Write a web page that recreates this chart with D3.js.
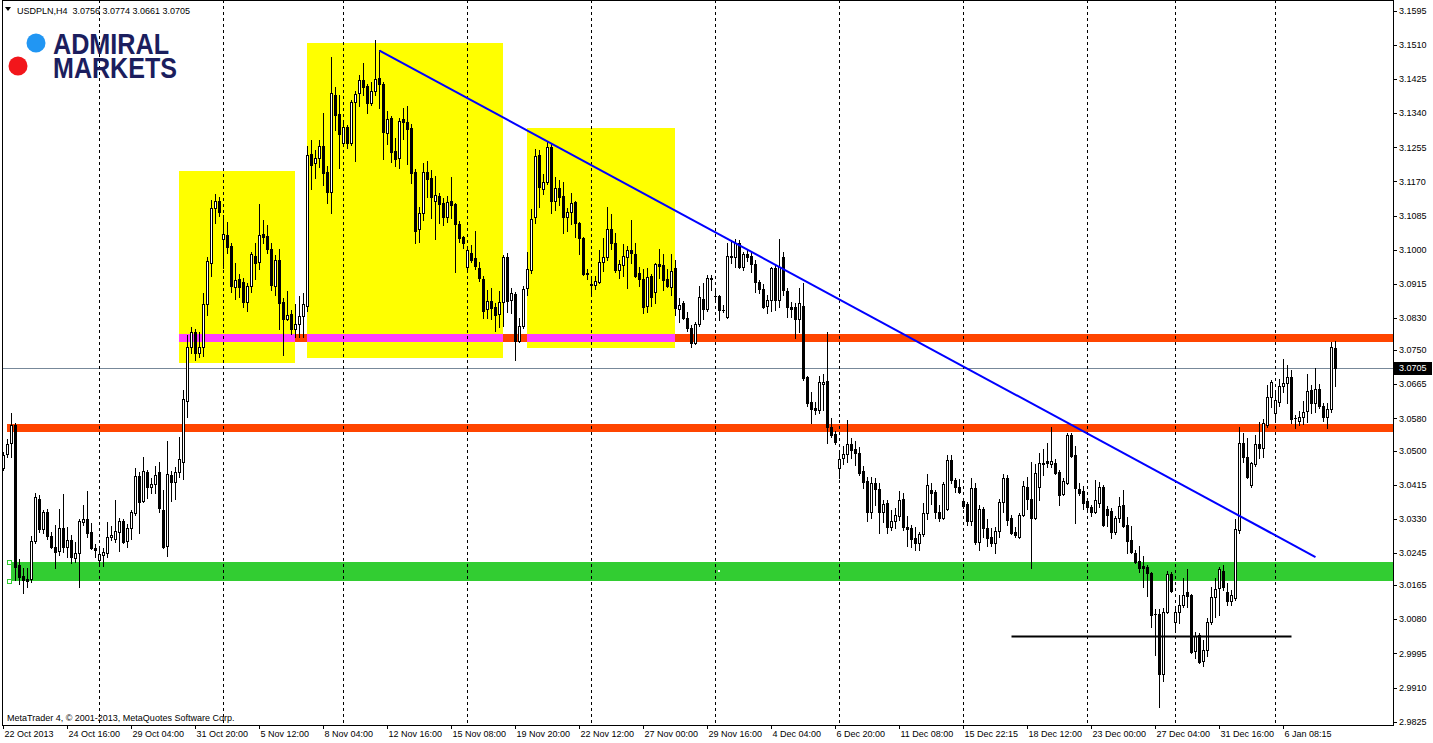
<!DOCTYPE html>
<html><head><meta charset="utf-8">
<script src="https://cdn.jsdelivr.net/npm/d3@7"></script>
<style>
html,body{margin:0;padding:0;background:#fff;overflow:hidden}
svg{display:block}
text{font-family:"Liberation Sans",Arial,sans-serif}
</style></head><body>
<svg id="chart" width="1433" height="743"></svg>
<script>
// ---------- DATA (USDPLN, H4) ----------
const symbolTitle = "USDPLN,H4";
const lastBar = [3.0756, 3.0774, 3.0661, 3.0705];
const currentPrice = 3.0705;

const opens = [
3.0457,3.0492,3.0519,3.0564,3.0215,3.0188,3.0180,3.0180,3.0275,3.0379,3.0305,3.0347,3.0287,3.0260,3.0250,3.0307,3.0260,3.0277,3.0232,3.0245,
3.0322,3.0330,3.0297,3.0257,3.0228,3.0240,3.0245,3.0285,3.0280,3.0297,3.0325,3.0275,3.0307,3.0345,3.0437,3.0374,3.0447,3.0409,3.0417,3.0447,
3.0352,3.0262,3.0439,3.0422,3.0447,3.0472,3.0624,3.0758,3.0795,3.0743,3.0758,3.0865,3.0967,3.1104,3.1121,3.1026,3.1037,3.1009,3.0907,3.0927,
3.0920,3.0870,3.0910,3.0985,3.0970,3.1039,3.1034,3.1002,3.0910,3.0975,3.0870,3.0828,3.0840,3.0803,3.0815,3.0835,3.0860,3.1238,3.1216,3.1229,
3.1258,3.1194,3.1144,3.1385,3.1338,3.1266,3.1306,3.1266,3.1368,3.1390,3.1423,3.1408,3.1366,3.1395,3.1428,3.1413,3.1291,3.1328,3.1246,3.1229,
3.1326,3.1318,3.1303,3.1194,3.1052,3.1092,3.1194,3.1179,3.1121,3.1134,3.1117,3.1082,3.1121,3.1114,3.1064,3.1032,3.0957,3.0992,3.0980,3.0955,
3.0927,3.0853,3.0872,3.0858,3.0840,3.0870,3.0982,3.0875,3.0890,3.0773,3.0810,3.0905,3.0950,3.1082,3.1236,3.1151,3.1169,3.1256,3.1121,3.1154,
3.1134,3.1082,3.1094,3.1119,3.1067,3.1029,3.0942,3.0915,3.0912,3.0920,3.0970,3.0982,3.1052,3.1017,3.0950,3.0962,3.0982,3.0999,3.0990,3.0942,
3.0927,3.0860,3.0935,3.0895,3.0965,3.0962,3.0927,3.0907,3.0955,3.0853,3.0868,3.0830,3.0805,3.0768,3.0815,3.0877,3.0853,3.0927,3.0885,3.0885,
3.0850,3.0833,3.0982,3.0982,3.1017,3.0957,3.0990,3.0985,3.0965,3.0920,3.0902,3.0860,3.0875,3.0955,3.0875,3.0982,3.0897,3.0858,3.0858,3.0828,
3.0860,3.0683,3.0621,3.0606,3.0601,3.0666,3.0673,3.0559,3.0541,3.0457,3.0482,3.0492,3.0516,3.0504,3.0494,3.0449,3.0424,3.0347,3.0419,3.0404,
3.0347,3.0370,3.0310,3.0325,3.0337,3.0379,3.0310,3.0307,3.0282,3.0270,3.0292,3.0345,3.0402,3.0397,3.0347,3.0332,3.0355,3.0477,3.0427,3.0409,
3.0374,3.0367,3.0325,3.0407,3.0272,3.0355,3.0307,3.0285,3.0270,3.0300,3.0372,3.0432,3.0332,3.0297,3.0285,3.0340,3.0409,3.0379,3.0332,3.0409,
3.0467,3.0474,3.0467,3.0469,3.0447,3.0392,3.0419,3.0539,3.0489,3.0404,3.0399,3.0374,3.0360,3.0347,3.0370,3.0409,3.0355,3.0350,3.0297,3.0332,
3.0365,3.0315,3.0277,3.0245,3.0225,3.0213,3.0210,3.0195,3.0093,3.0093,2.9944,3.0098,3.0193,3.0073,3.0098,3.0116,3.0148,3.0140,3.0001,3.0041,
2.9976,3.0003,3.0073,3.0135,3.0158,3.0200,3.0148,3.0126,3.0133,3.0302,3.0519,3.0484,3.0414,3.0467,3.0516,3.0506,3.0564,3.0634,3.0594,3.0621,
3.0661,3.0668,3.0683,3.0581,3.0574,3.0584,3.0599,3.0651,3.0619,3.0653,3.0611,3.0584,3.0604,3.0756];

const highs = [
3.0497,3.0529,3.0594,3.0569,3.0230,3.0208,3.0208,3.0287,3.0394,3.0389,3.0352,3.0355,3.0297,3.0315,3.0355,3.0392,3.0310,3.0290,3.0272,3.0330,
3.0365,3.0399,3.0320,3.0267,3.0257,3.0257,3.0322,3.0312,3.0377,3.0332,3.0330,3.0317,3.0352,3.0457,3.0447,3.0484,3.0452,3.0432,3.0462,3.0472,
3.0402,3.0524,3.0449,3.0459,3.0534,3.0651,3.0788,3.0808,3.0803,3.0795,3.0892,3.0982,3.1124,3.1139,3.1131,3.1087,3.1069,3.1017,3.0967,3.0940,
3.0930,3.0917,3.0995,3.1017,3.1114,3.1074,3.1062,3.1017,3.0987,3.1002,3.0880,3.0897,3.0850,3.0865,3.0885,3.0892,3.1258,3.1273,3.1248,3.1273,
3.1341,3.1209,3.1480,3.1405,3.1385,3.1316,3.1311,3.1373,3.1395,3.1435,3.1465,3.1413,3.1418,3.1522,3.1497,3.1418,3.1346,3.1333,3.1278,3.1328,
3.1353,3.1358,3.1313,3.1201,3.1107,3.1216,3.1221,3.1199,3.1184,3.1141,3.1129,3.1134,3.1181,3.1117,3.1072,3.1034,3.1007,3.1012,3.1047,3.0970,
3.0935,3.0900,3.0905,3.0867,3.0897,3.0987,3.0992,3.0905,3.0895,3.0830,3.0910,3.0995,3.1102,3.1251,3.1248,3.1189,3.1271,3.1266,3.1181,3.1174,
3.1169,3.1104,3.1141,3.1121,3.1069,3.1032,3.0952,3.0930,3.0935,3.0999,3.1029,3.1107,3.1089,3.1042,3.0975,3.1014,3.1009,3.1074,3.1017,3.0957,
3.0952,3.0955,3.0940,3.0967,3.1002,3.0990,3.0952,3.0990,3.0975,3.0880,3.0872,3.0845,3.0813,3.0820,3.0910,3.0917,3.0937,3.0937,3.0900,3.0887,
3.0863,3.1017,3.1024,3.1027,3.1024,3.0995,3.1002,3.0995,3.0975,3.0925,3.0915,3.0887,3.0957,3.0962,3.1027,3.0995,3.0905,3.0870,3.0868,3.0905,
3.0917,3.0686,3.0646,3.0621,3.0686,3.0691,3.0795,3.0581,3.0549,3.0497,3.0512,3.0576,3.0531,3.0524,3.0509,3.0462,3.0434,3.0434,3.0432,3.0419,
3.0377,3.0377,3.0352,3.0357,3.0399,3.0394,3.0337,3.0315,3.0310,3.0297,3.0370,3.0442,3.0419,3.0402,3.0365,3.0422,3.0489,3.0489,3.0432,3.0429,
3.0379,3.0372,3.0432,3.0419,3.0365,3.0360,3.0330,3.0307,3.0310,3.0379,3.0442,3.0439,3.0340,3.0310,3.0345,3.0424,3.0434,3.0472,3.0467,3.0494,
3.0504,3.0519,3.0559,3.0479,3.0452,3.0432,3.0544,3.0544,3.0512,3.0419,3.0412,3.0382,3.0365,3.0427,3.0422,3.0414,3.0362,3.0357,3.0337,3.0384,
3.0402,3.0335,3.0312,3.0252,3.0262,3.0237,3.0215,3.0198,3.0106,3.0106,3.0108,3.0200,3.0198,3.0108,3.0140,3.0183,3.0205,3.0143,3.0048,3.0046,
3.0028,3.0083,3.0160,3.0183,3.0210,3.0215,3.0170,3.0153,3.0330,3.0559,3.0544,3.0531,3.0472,3.0539,3.0571,3.0579,3.0663,3.0676,3.0646,3.0678,
3.0728,3.0713,3.0701,3.0589,3.0599,3.0624,3.0691,3.0663,3.0706,3.0666,3.0619,3.0619,3.0770,3.0774];

const lows = [
3.0452,3.0484,3.0484,3.0178,3.0168,3.0145,3.0160,3.0173,3.0270,3.0297,3.0295,3.0280,3.0257,3.0208,3.0240,3.0247,3.0235,3.0220,3.0222,3.0160,
3.0315,3.0285,3.0255,3.0235,3.0220,3.0213,3.0235,3.0277,3.0272,3.0250,3.0270,3.0260,3.0280,3.0340,3.0295,3.0372,3.0382,3.0394,3.0394,3.0347,
3.0257,3.0237,3.0374,3.0379,3.0434,3.0429,3.0584,3.0743,3.0726,3.0733,3.0736,3.0838,3.0935,3.1067,3.1084,3.0955,3.0992,3.0895,3.0877,3.0883,
3.0858,3.0848,3.0895,3.0927,3.0952,3.1017,3.0992,3.0900,3.0887,3.0803,3.0738,3.0825,3.0790,3.0783,3.0783,3.0783,3.0848,3.1151,3.1179,3.1206,
3.1161,3.1117,3.1092,3.1298,3.1204,3.1261,3.1254,3.1261,3.1221,3.1358,3.1385,3.1341,3.1361,3.1385,3.1353,3.1226,3.1263,3.1219,3.1209,3.1204,
3.1276,3.1214,3.1166,3.1017,3.1019,3.1074,3.1131,3.1079,3.1027,3.1067,3.1062,3.1069,3.1079,3.0945,3.1019,3.1005,3.0952,3.0970,3.0952,3.0922,
3.0830,3.0830,3.0828,3.0798,3.0808,3.0810,3.0845,3.0843,3.0726,3.0770,3.0805,3.0887,3.0942,3.1067,3.1107,3.1139,3.1164,3.1092,3.1099,3.1112,
3.1042,3.1047,3.1064,3.1032,3.0990,3.0937,3.0927,3.0890,3.0902,3.0917,3.0947,3.0975,3.1002,3.0945,3.0930,3.0935,3.0905,3.0967,3.0932,3.0910,
3.0843,3.0845,3.0860,3.0867,3.0930,3.0900,3.0907,3.0887,3.0838,3.0820,3.0828,3.0798,3.0758,3.0765,3.0810,3.0828,3.0848,3.0900,3.0875,3.0825,
3.0845,3.0830,3.0967,3.0957,3.0955,3.0950,3.0972,3.0945,3.0895,3.0892,3.0855,3.0843,3.0848,3.0850,3.0858,3.0887,3.0833,3.0833,3.0780,3.0795,
3.0676,3.0611,3.0569,3.0591,3.0594,3.0601,3.0519,3.0534,3.0516,3.0432,3.0467,3.0472,3.0482,3.0464,3.0439,3.0407,3.0325,3.0332,3.0365,3.0295,
3.0322,3.0295,3.0302,3.0307,3.0327,3.0302,3.0262,3.0260,3.0252,3.0252,3.0287,3.0330,3.0367,3.0332,3.0325,3.0330,3.0352,3.0419,3.0397,3.0394,
3.0357,3.0315,3.0315,3.0267,3.0252,3.0285,3.0262,3.0262,3.0245,3.0285,3.0347,3.0315,3.0292,3.0285,3.0282,3.0337,3.0355,3.0208,3.0330,3.0377,
3.0439,3.0459,3.0459,3.0442,3.0365,3.0389,3.0417,3.0484,3.0320,3.0389,3.0355,3.0347,3.0337,3.0345,3.0360,3.0312,3.0312,3.0282,3.0292,3.0322,
3.0310,3.0245,3.0245,3.0220,3.0198,3.0160,3.0138,3.0061,2.9991,2.9862,2.9926,3.0096,3.0148,3.0056,3.0071,3.0111,3.0111,2.9996,2.9983,2.9971,
2.9964,2.9988,3.0068,3.0086,3.0091,3.0153,3.0116,3.0116,3.0128,3.0295,3.0472,3.0432,3.0409,3.0462,3.0482,3.0484,3.0559,3.0609,3.0579,3.0611,
3.0646,3.0619,3.0569,3.0556,3.0564,3.0566,3.0571,3.0594,3.0596,3.0606,3.0574,3.0556,3.0596,3.0661];

const closes = [
3.0489,3.0516,3.0564,3.0210,3.0185,3.0178,3.0175,3.0275,3.0384,3.0305,3.0347,3.0287,3.0260,3.0247,3.0307,3.0260,3.0277,3.0235,3.0245,3.0325,
3.0330,3.0295,3.0257,3.0252,3.0242,3.0247,3.0285,3.0290,3.0300,3.0325,3.0272,3.0307,3.0347,3.0437,3.0372,3.0449,3.0409,3.0417,3.0439,3.0357,
3.0260,3.0442,3.0422,3.0447,3.0479,3.0629,3.0758,3.0795,3.0743,3.0758,3.0865,3.0972,3.1104,3.1121,3.1094,3.1039,3.1007,3.0910,3.0925,3.0907,
3.0870,3.0910,3.0990,3.0967,3.1037,3.1032,3.1002,3.0912,3.0975,3.0868,3.0828,3.0838,3.0803,3.0815,3.0835,3.0865,3.1236,3.1211,3.1229,3.1258,
3.1191,3.1144,3.1390,3.1336,3.1288,3.1306,3.1266,3.1368,3.1388,3.1423,3.1405,3.1366,3.1395,3.1425,3.1413,3.1293,3.1326,3.1244,3.1226,3.1321,
3.1318,3.1301,3.1191,3.1047,3.1092,3.1194,3.1176,3.1131,3.1136,3.1114,3.1082,3.1119,3.1112,3.1064,3.1029,3.1017,3.0999,3.0975,3.0960,3.0930,
3.0848,3.0872,3.0855,3.0838,3.0870,3.0982,3.0872,3.0892,3.0773,3.0810,3.0902,3.0952,3.1077,3.1234,3.1156,3.1169,3.1256,3.1121,3.1154,3.1131,
3.1082,3.1094,3.1117,3.1067,3.1029,3.0940,3.0940,3.0912,3.0922,3.0970,3.0982,3.1052,3.1017,3.0950,3.0965,3.0985,3.0999,3.0992,3.0935,3.0927,
3.0858,3.0932,3.0883,3.0965,3.0960,3.0925,3.0910,3.0947,3.0855,3.0863,3.0830,3.0805,3.0768,3.0815,3.0883,3.0853,3.0930,3.0930,3.0885,3.0850,
3.0850,3.0985,3.0985,3.1017,3.0957,3.0990,3.0982,3.0965,3.0920,3.0902,3.0858,3.0875,3.0955,3.0875,3.0957,3.0900,3.0858,3.0853,3.0828,3.0868,
3.0681,3.0619,3.0604,3.0601,3.0671,3.0671,3.0559,3.0539,3.0521,3.0479,3.0492,3.0516,3.0502,3.0494,3.0444,3.0422,3.0347,3.0419,3.0404,3.0347,
3.0367,3.0310,3.0325,3.0340,3.0377,3.0310,3.0305,3.0280,3.0270,3.0292,3.0345,3.0414,3.0394,3.0347,3.0332,3.0417,3.0477,3.0427,3.0409,3.0397,
3.0362,3.0325,3.0407,3.0272,3.0355,3.0307,3.0282,3.0270,3.0300,3.0372,3.0432,3.0327,3.0295,3.0290,3.0340,3.0412,3.0379,3.0332,3.0444,3.0469,
3.0469,3.0469,3.0474,3.0444,3.0389,3.0424,3.0539,3.0487,3.0407,3.0394,3.0370,3.0360,3.0347,3.0377,3.0409,3.0315,3.0340,3.0297,3.0332,3.0362,
3.0312,3.0275,3.0247,3.0223,3.0208,3.0208,3.0195,3.0091,3.0093,2.9944,3.0098,3.0193,3.0150,3.0098,3.0116,3.0140,3.0138,2.9999,3.0038,2.9973,
3.0003,3.0073,3.0135,3.0155,3.0205,3.0160,3.0126,3.0140,3.0305,3.0519,3.0484,3.0434,3.0469,3.0516,3.0506,3.0569,3.0634,3.0671,3.0626,3.0661,
3.0668,3.0683,3.0579,3.0581,3.0584,3.0596,3.0648,3.0619,3.0653,3.0611,3.0584,3.0604,3.0758,3.0705];

const priceLabels = ["3.1595","3.1510","3.1425","3.1340","3.1255","3.1170","3.1085","3.1000","3.0915","3.0830","3.0750",
  "3.0665","3.0580","3.0500","3.0415","3.0330","3.0245","3.0165","3.0080","2.9995","2.9910","2.9825"];
const timeLabels = ["22 Oct 2013","24 Oct 16:00","29 Oct 04:00","31 Oct 20:00","5 Nov 12:00","8 Nov 04:00","12 Nov 16:00",
  "15 Nov 08:00","19 Nov 20:00","22 Nov 12:00","27 Nov 00:00","29 Nov 16:00","4 Dec 04:00","6 Dec 20:00","11 Dec 08:00",
  "15 Dec 22:15","18 Dec 12:00","23 Dec 00:00","27 Dec 04:00","31 Dec 16:00","6 Jan 08:15"];
const timeLabelBars = [0,16,32,48,64,80,96,112,128,144,160,176,192,208,224,240,256,272,288,304,320];
const weekSeparatorBars = [24,55,85,116,147,178,209,240,271,293,318];

// drawn objects: [barStart, barEnd, priceTop, priceBottom]
const yellowBoxes = [[43.9,72.9,3.1196,3.0717],[75.9,124.9,3.1515,3.0731],[130.9,167.9,3.1303,3.0756]];
const magentaBands = [[43.9,72.9,3.0790,3.0770],[75.9,124.9,3.0790,3.0770],[130.9,167.9,3.0790,3.0770]];
const orangeBands = [[43.9,360,3.0790,3.0770],[0.9,360,3.0566,3.0546]];
const greenBand = [1.9,355.9,3.0223,3.0175];
const blueTrend = [[94,3.1496],[328,3.0235]];
const blackLevel = [[252,3.0037],[322,3.0037]];
const logoWords = ["ADMIRAL","MARKETS"];

// ---------- CHART ----------
const W = 1433, H = 743;
const plot = {left:2, right:1393, top:0, bottom:725};
const svg = d3.select("#chart");
const x = d3.scaleLinear().domain([0, 333]).range([3.5, 1335.5]);
const y = d3.scaleLinear().domain([2.9825, 3.1595]).range([721.7, 10.8]);

svg.append("rect").attr("width",W).attr("height",H).attr("fill","#fff");
svg.append("defs").append("clipPath").attr("id","pc").append("rect")
  .attr("x",plot.left+1).attr("y",plot.top+1).attr("width",plot.right-plot.left-1).attr("height",plot.bottom-plot.top-1);

const g = svg.append("g").attr("clip-path","url(#pc)");

function band(sel, arr, color){
  sel.selectAll(null).data(arr).join("rect")
    .attr("x", d=>Math.round(x(d[0])-0.5))
    .attr("width", d=>Math.round(x(d[1]))-Math.round(x(d[0])-0.5))
    .attr("y", d=>Math.round(y(d[2])))
    .attr("height", d=>Math.round(y(d[3]))-Math.round(y(d[2])))
    .attr("fill", color);
}
band(g, yellowBoxes, "#FFFF00");
band(g, orangeBands, "#FF4500");
band(g, magentaBands, "#FF40FF");
band(g, [greenBand], "#32CD32");

// current price line
g.append("line").attr("x1",plot.left).attr("x2",plot.right)
  .attr("y1",Math.round(y(currentPrice))+0.5).attr("y2",Math.round(y(currentPrice))+0.5)
  .attr("stroke","#778899").attr("stroke-width",1);

// week separators
g.selectAll(null).data(weekSeparatorBars).join("line")
  .attr("x1",d=>Math.floor(x(d))+0.5).attr("x2",d=>Math.floor(x(d))+0.5)
  .attr("y1",plot.top).attr("y2",plot.bottom)
  .attr("stroke","#000").attr("stroke-width",1).attr("stroke-dasharray","3,3");

// candles
const bars = d3.range(opens.length).map(i=>({i,o:opens[i],h:highs[i],l:lows[i],c:closes[i]}));
const cg = g.append("g");
cg.selectAll("line.wick").data(bars).join("line").attr("class","wick")
  .attr("x1",d=>Math.floor(x(d.i))+0.5).attr("x2",d=>Math.floor(x(d.i))+0.5)
  .attr("y1",d=>Math.round(y(d.h))).attr("y2",d=>Math.round(y(d.l))+1)
  .attr("stroke","#000").attr("stroke-width",1);
cg.selectAll("rect.body").data(bars).join("rect").attr("class","body")
  .each(function(d){
    const cx = Math.floor(x(d.i));
    const t = Math.round(y(Math.max(d.o,d.c))), b = Math.round(y(Math.min(d.o,d.c)));
    const s = d3.select(this);
    if (d.c > d.o && b - t >= 2) {
      s.attr("x",cx-0.5).attr("width",2)
       .attr("y",t+0.5).attr("height",b-t).attr("fill","#fff").attr("stroke","#000").attr("stroke-width",1);
    } else {
      s.attr("x",cx-1).attr("width",3).attr("y",t).attr("height",Math.max(1,b-t+1)).attr("fill","#000");
    }
  });

// trend & level lines
const lineGen = d3.line().x(d=>x(d[0])).y(d=>y(d[1]));
g.append("path").datum(blueTrend).attr("d",lineGen).attr("fill","none").attr("stroke","#0000FF").attr("stroke-width",2);
g.append("path").datum(blackLevel).attr("d",lineGen).attr("fill","none").attr("stroke","#000").attr("stroke-width",2);

// handles on green rectangle
[[greenBand[0],greenBand[2]],[greenBand[0],greenBand[3]]].forEach(p=>{
  g.append("rect").attr("x",Math.round(x(p[0]-0.5))-1.5).attr("y",Math.round(y(p[1]))-1.5)
    .attr("width",4).attr("height",4).attr("fill","#fff").attr("stroke","#32CD32").attr("stroke-width",1);
});
g.append("rect").attr("x",Math.round(x((greenBand[0]+greenBand[1])/2))-1).attr("y",Math.round(y((greenBand[2]+greenBand[3])/2))-1)
  .attr("width",2).attr("height",2).attr("fill","#fff");

// logo
const logo = svg.append("g");
logo.append("circle").attr("cx",36).attr("cy",43).attr("r",9.5).attr("fill","#2196F3");
logo.append("circle").attr("cx",18).attr("cy",66).attr("r",9.5).attr("fill","#F2161B");
const lt = logo.append("text")
  .attr("font-family","Roboto, 'Liberation Sans', sans-serif").attr("font-weight",700).attr("font-size",30)
  .attr("fill","#1B1E5E");
lt.append("tspan").attr("x",53).attr("y",54).attr("textLength",116).attr("lengthAdjust","spacingAndGlyphs").text(logoWords[0]);
lt.append("tspan").attr("x",53).attr("y",78).attr("textLength",124).attr("lengthAdjust","spacingAndGlyphs").text(logoWords[1]);

// header
svg.append("path").attr("d","M5,7 L11,7 L8,11 Z").attr("fill","#000");
svg.append("text").attr("x",17).attr("y",14).attr("font-size",9).attr("fill","#000")
  .attr("xml:space","preserve").style("white-space","pre").text(symbolTitle + "  " + lastBar.map(v=>v.toFixed(4)).join(" "));
svg.append("text").attr("x",7).attr("y",721).attr("font-size",9).attr("fill","#000")
  .text("MetaTrader 4, \u00A9 2001-2013, MetaQuotes Software Corp.");

// frame
svg.append("rect").attr("x",plot.left+0.5).attr("y",plot.top+0.5)
  .attr("width",plot.right-plot.left).attr("height",plot.bottom-plot.top)
  .attr("fill","none").attr("stroke","#000").attr("stroke-width",1);

// right price axis
const ra = svg.append("g");
ra.selectAll("line").data(priceLabels).join("line")
  .attr("x1",plot.right+0.5).attr("x2",plot.right+4)
  .attr("y1",d=>Math.round(y(+d))+0.5).attr("y2",d=>Math.round(y(+d))+0.5)
  .attr("stroke","#000");
ra.selectAll("text").data(priceLabels).join("text")
  .attr("x",1399).attr("y",d=>y(+d)).attr("dy","0.35em").attr("font-size",9).attr("fill","#000").text(d=>d);
const cpY = Math.round(y(currentPrice));
svg.append("rect").attr("x",plot.right+1).attr("y",cpY-6).attr("width",W-plot.right-2).attr("height",13).attr("fill","#000");
svg.append("text").attr("x",1399).attr("y",cpY).attr("dy","0.35em").attr("font-size",9).attr("fill","#fff").text(currentPrice.toFixed(4));

// bottom time axis
const ba = svg.append("g");
ba.selectAll("line").data(timeLabelBars).join("line")
  .attr("x1",d=>Math.floor(x(d))+0.5).attr("x2",d=>Math.floor(x(d))+0.5)
  .attr("y1",plot.bottom+0.5).attr("y2",plot.bottom+4).attr("stroke","#000");
ba.selectAll("text").data(timeLabels).join("text")
  .attr("x",(d,i)=>x(timeLabelBars[i])+1).attr("y",737).attr("font-size",9).attr("fill","#000").text(d=>d);
</script></body></html>
